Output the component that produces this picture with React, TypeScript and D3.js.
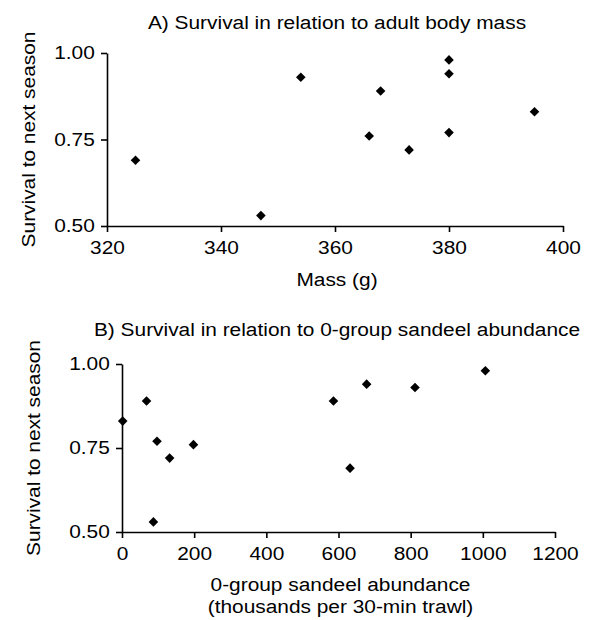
import { useEffect, useRef } from 'react';
import * as d3 from 'd3';

// panel A: survival vs adult body mass
const massG = [325, 347, 354, 366, 368, 373, 380, 380, 380, 395];
const survivalA = [0.69, 0.53, 0.93, 0.76, 0.89, 0.72, 0.98, 0.94, 0.77, 0.83];

// panel B: survival vs 0-group sandeel abundance
const sandeel = [2, 68, 87, 97, 132, 198, 586, 632, 678, 812, 1007];
const survivalB = [0.83, 0.89, 0.53, 0.77, 0.72, 0.76, 0.89, 0.69, 0.94, 0.93, 0.98];

const massTicks = [320, 340, 360, 380, 400];
const sandeelTicks = [0, 200, 400, 600, 800, 1000, 1200];
const survivalTicks = [0.5, 0.75, 1.0];

const FONT = '"Liberation Sans", Arial, Helvetica, sans-serif';
const STRETCH = 1.16; // the scanned lettering is a bit wide

type PanelProps = {
  title: string;
  xs: number[];
  ys: number[];
  xDomain: [number, number];
  xTicks: number[];
  xRange: [number, number];
  yRange: [number, number];
  titleY: number;
  yLabelX: number;
  xLabels: { text: string; y: number }[];
};

function Panel({ title, xs, ys, xDomain, xTicks, xRange, yRange, titleY, yLabelX, xLabels }: PanelProps) {
  const xAxisRef = useRef<SVGGElement>(null);
  const yAxisRef = useRef<SVGGElement>(null);

  const x = d3.scaleLinear().domain(xDomain).range(xRange);
  const y = d3.scaleLinear().domain([0.5, 1]).range(yRange);

  useEffect(() => {
    const styleAxis = (g: d3.Selection<SVGGElement, unknown, null, undefined>) => {
      g.select('.domain').attr('stroke', '#000').attr('stroke-width', 1.6);
      g.selectAll('.tick line').attr('stroke', '#000').attr('stroke-width', 1.6);
      g.selectAll('.tick text')
        .attr('fill', '#000')
        .style('font-family', FONT)
        .style('font-size', '18px');
    };

    const gx = d3.select(xAxisRef.current!);
    gx.selectAll('*').remove();
    gx.call(d3.axisBottom(x).tickValues(xTicks).tickFormat(d3.format('d')).tickSize(6).tickSizeOuter(0).tickPadding(9));
    styleAxis(gx);
    gx.selectAll('.tick text').attr('transform', `scale(${STRETCH},1)`);

    const gy = d3.select(yAxisRef.current!);
    gy.selectAll('*').remove();
    gy.call(d3.axisLeft(y).tickValues(survivalTicks).tickFormat(d3.format('.2f')).tickSize(6).tickSizeOuter(0).tickPadding(4.5));
    styleAxis(gy);
    gy.selectAll('.tick text').attr('transform', `scale(${STRETCH},1)`);
  });

  const diamond = d3.symbol(d3.symbolSquare, 46)();
  const cx = (xRange[0] + xRange[1]) / 2;
  const cy = (yRange[0] + yRange[1]) / 2;

  return (
    <g style={{ fontFamily: FONT }}>
      <text transform={`translate(337,${titleY}) scale(${STRETCH},1)`} textAnchor="middle" fontSize={18} fill="#000">
        {title}
      </text>
      <text transform={`translate(${yLabelX},${cy}) rotate(-90) scale(${STRETCH},1)`} textAnchor="middle" fontSize={18} fill="#000">
        Survival to next season
      </text>
      <g ref={xAxisRef} transform={`translate(0,${yRange[0]})`} />
      <g ref={yAxisRef} transform={`translate(${xRange[0]},0)`} />
      {xs.map((v, i) => (
        <path key={i} d={diamond ?? ''} fill="#000" transform={`translate(${x(v)},${y(ys[i])}) rotate(45)`} />
      ))}
      {xLabels.map((l) => (
        <text key={l.text} transform={`translate(${cx + 2},${l.y}) scale(${STRETCH},1)`} textAnchor="middle" fontSize={18} fill="#000">
          {l.text}
        </text>
      ))}
    </g>
  );
}

export default function App() {
  useEffect(() => {
    document.body.style.margin = '0';
  }, []);

  return (
    <svg width={594} height={620} style={{ display: 'block', background: '#fff' }}>
      <Panel
        title="A) Survival in relation to adult body mass"
        xs={massG}
        ys={survivalA}
        xDomain={[320, 400]}
        xTicks={massTicks}
        xRange={[107, 563]}
        yRange={[226, 53]}
        titleY={29}
        yLabelX={35}
        xLabels={[{ text: 'Mass (g)', y: 286 }]}
      />
      <Panel
        title="B) Survival in relation to 0-group sandeel abundance"
        xs={sandeel}
        ys={survivalB}
        xDomain={[0, 1200]}
        xTicks={sandeelTicks}
        xRange={[122, 555]}
        yRange={[532, 364]}
        titleY={336}
        yLabelX={40}
        xLabels={[
          { text: '0-group sandeel abundance', y: 591 },
          { text: '(thousands per 30-min trawl)', y: 613 },
        ]}
      />
    </svg>
  );
}
